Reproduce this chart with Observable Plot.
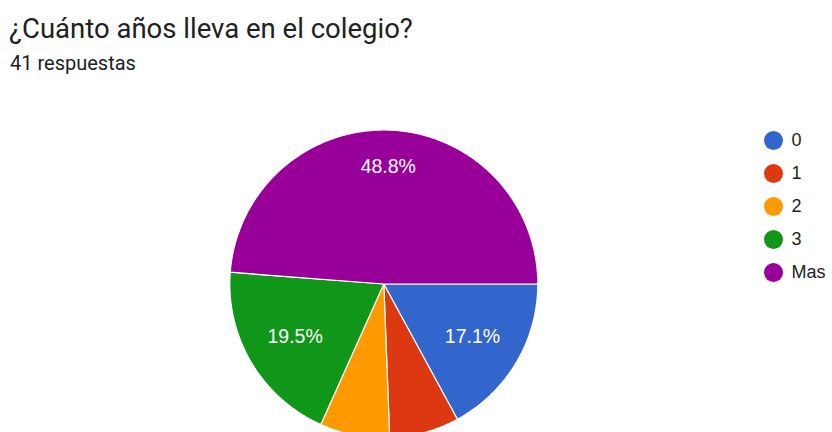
<!DOCTYPE html>
<html>
<head>
<meta charset="utf-8">
<script src="https://cdn.jsdelivr.net/npm/d3@7"></script>
<script src="https://cdn.jsdelivr.net/npm/@observablehq/plot@0.6"></script>
<style>
  html, body { margin: 0; padding: 0; background: #fff; width: 832px; height: 432px; overflow: hidden; }
  #wrap { position: relative; width: 832px; height: 432px; }
  #title { position: absolute; left: 9px; top: 13px; font-family: Roboto, sans-serif; font-size: 27.5px; line-height: 32px; color: #202124; white-space: nowrap; }
  #subtitle { position: absolute; left: 10px; top: 50.5px; font-family: Roboto, sans-serif; font-size: 20px; line-height: 24px; color: #202124; white-space: nowrap; }
  #header { height: 95px; }
  #legend { position: absolute; left: 763.5px; top: 123.5px; font-family: "Liberation Sans", Arial, sans-serif; font-size: 18px; color: #222; }
  .row { display: flex; align-items: center; height: 33px; }
  .sw { width: 19px; height: 19px; border-radius: 50%; margin-right: 9px; }
  .lab { line-height: 20px; }
  #chart svg { display: block; }
</style>
</head>
<body>
<div id="wrap">
  <div id="header"></div>
  <div id="title">¿Cuánto años lleva en el colegio?</div>
  <div id="subtitle">41 respuestas</div>
  <div id="chart"></div>
  <div id="legend"></div>
</div>
<script>
// Data
const categories = ["0", "1", "2", "3", "Mas"];
const counts = [7, 3, 3, 8, 20];
const colors = ["#3366cc", "#dc3912", "#ff9900", "#109618", "#990099"];

const total = d3.sum(counts);
const W = 832, H = 432 - 95;
const cx = 383.3, cy = 283.5 - 95, R = 154;

// Build slice polygons (start at 3 o'clock, clockwise on screen)
const points = [];
const labels = [];
let acc = 0;
counts.forEach((c, i) => {
  const a0 = acc / total * 2 * Math.PI;
  acc += c;
  const a1 = acc / total * 2 * Math.PI;
  const key = categories[i];
  points.push({key, x: 0, y: 0});
  const n = Math.max(2, Math.ceil((a1 - a0) / (Math.PI / 360)));
  for (let k = 0; k <= n; k++) {
    const a = a0 + (a1 - a0) * k / n;
    points.push({key, x: Math.cos(a), y: -Math.sin(a)});
  }
  const frac = c / total;
  if (frac >= 0.1) {
    const mid = (a0 + a1) / 2;
    const lr = frac > 0.4 ? 0.76 : 0.67;
    labels.push({key, x: lr * Math.cos(mid), y: -lr * Math.sin(mid), text: (frac * 100).toFixed(1) + "%"});
  }
});

const plot = Plot.plot({
  width: W,
  height: H,
  margin: 0,
  x: {domain: [-cx / R, (W - cx) / R], axis: null},
  y: {domain: [-(H - cy) / R, cy / R], axis: null},
  color: {domain: categories, range: colors},
  marks: [
    Plot.line(points, {x: "x", y: "y", z: "key", fill: "key", stroke: "white", strokeWidth: 1.2, curve: "linear-closed"}),
    Plot.text(labels, {x: "x", y: "y", text: "text", fill: "white", fontSize: 19.5, fontFamily: "'Liberation Sans', Arial, sans-serif", textAnchor: "middle"})
  ],
  style: {background: "transparent", overflow: "hidden"}
});
document.getElementById("chart").appendChild(plot);

// Legend
const leg = document.getElementById("legend");
categories.forEach((c, i) => {
  const row = document.createElement("div");
  row.className = "row";
  const sw = document.createElement("span");
  sw.className = "sw";
  sw.style.background = colors[i];
  const lab = document.createElement("span");
  lab.className = "lab";
  lab.textContent = c;
  row.appendChild(sw);
  row.appendChild(lab);
  leg.appendChild(row);
});
</script>
</body>
</html>
